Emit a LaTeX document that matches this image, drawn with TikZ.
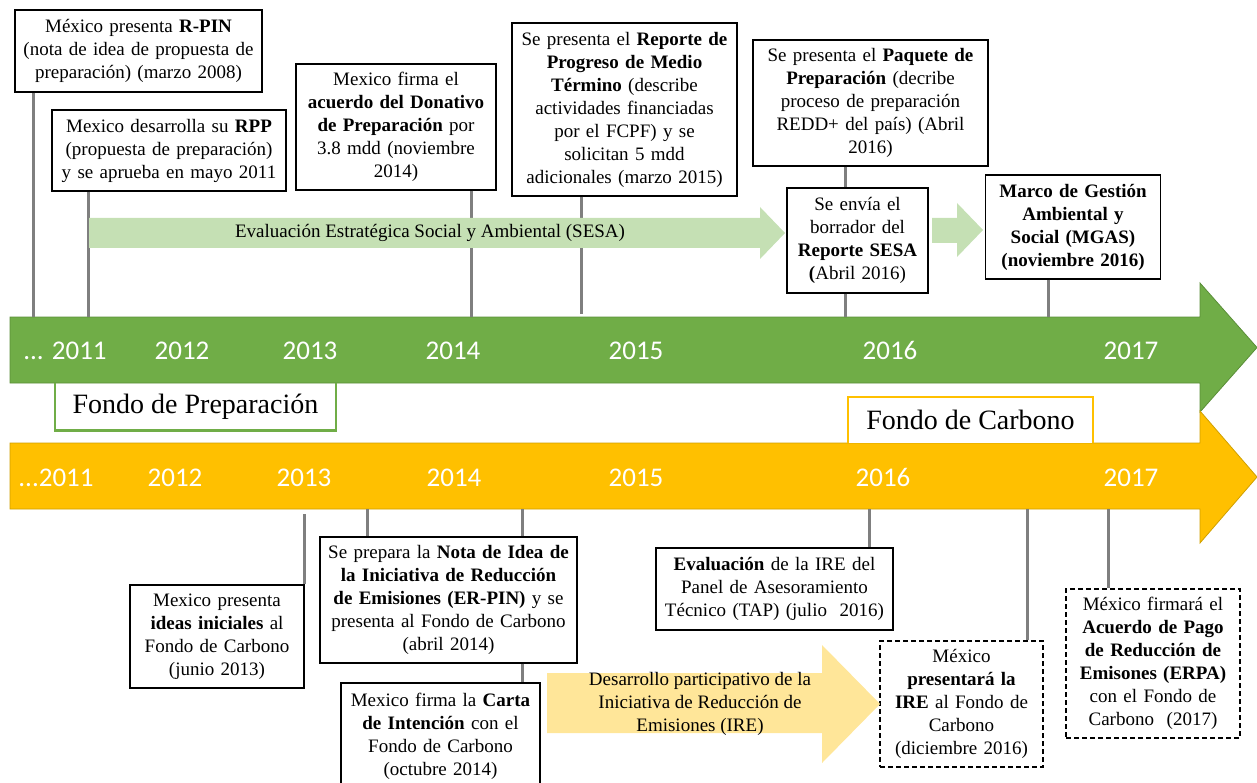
\documentclass[tikz,border=0pt]{standalone}
\usepackage{fontspec}
\setmainfont{Liberation Serif}
\newfontfamily\yearfont{Carlito}
\usetikzlibrary{positioning}
\definecolor{verde}{HTML}{70AD47}
\definecolor{verdeosc}{HTML}{5A8E38}
\definecolor{amarillo}{HTML}{FFC000}
\definecolor{amarilloosc}{HTML}{D0A000}
\definecolor{verdeclaro}{HTML}{C5E0B4}
\definecolor{amarilloclaro}{HTML}{FFE699}
\definecolor{gris}{HTML}{7F7F7F}
\tikzset{
  evento/.style={draw, line width=1.4pt, fill=white, align=center, inner sep=0pt,
    font=\fontsize{19}{23}\selectfont},
  futuro/.style={evento, dash pattern=on 5pt off 3pt},
  tick/.style={gris, line width=3pt},
  anio/.style={white, anchor=base, inner sep=0pt, font=\yearfont\fontsize{27}{30}\selectfont},
  fondo/.style={font=\fontsize{28}{32}\selectfont, inner sep=0pt},
  flecha/.style={font=\fontsize{19}{23}\selectfont, align=center, inner sep=0pt}
}

\begin{document}
\begin{tikzpicture}[x=1pt,y=-1pt]
  \useasboundingbox (0,0) rectangle (1257,783);

  \draw[verdeosc,fill=verde,line width=0.8pt] (10,317) -- (1200,317) -- (1200,283) -- (1257,347.5)
    -- (1200,412) -- (1200,383) -- (10,383) -- cycle;
  \draw[amarilloosc,fill=amarillo,line width=0.8pt] (10,443) -- (1200,443) -- (1200,411) -- (1257,477)
    -- (1200,543) -- (1200,509) -- (10,509) -- cycle;

  \node[anio] (g11) at (65,359) {... 2011};
  \node[anio] (g12) at (182,359) {2012};
  \node[anio] (g13) at (310,359) {2013};
  \node[anio] (g14) at (453,359) {2014};
  \node[anio] (g15) at (636,359) {2015};
  \node[anio] (g16) at (890,359) {2016};
  \node[anio] (g17) at (1131,359) {2017};
  \node[anio] (a11) at (56,486) {...2011};
  \node[anio] (a12) at (175,486) {2012};
  \node[anio] (a13) at (304,486) {2013};
  \node[anio] (a14) at (454,486) {2014};
  \node[anio] (a15) at (636,486) {2015};
  \node[anio] (a16) at (883,486) {2016};
  \node[anio] (a17) at (1131,486) {2017};

  \node[fondo,fill=white,minimum width=281pt,minimum height=47pt] (fprep) at (195.5,407) {Fondo de Preparación};
  \draw[verde,line width=2.5pt] (fprep.north west) |- (fprep.south east) -- (fprep.north east);
  \node[fondo,fill=white,minimum width=245pt,minimum height=46pt] (fcarb) at (970.5,420) {Fondo de Carbono};
  \draw[amarillo,line width=2.5pt] (fcarb.south west) |- (fcarb.north east) -- (fcarb.south east);

  \node[evento,text width=237pt,minimum width=247pt,minimum height=82pt] (rpin) at (138.5,51)
    {México presenta \textbf{R-PIN}\\(nota de idea de propuesta de\\preparación) (marzo 2008)};
  \node[evento,text width=226pt,minimum width=234pt,minimum height=81pt] (rpp) at (169,150.5)
    {Mexico desarrolla su \textbf{RPP}\\(propuesta de preparación)\\y se aprueba en mayo 2011};
  \node[evento,text width=194pt,minimum width=200pt,minimum height=126pt] (donat) at (396,127)
    {Mexico firma el\\\textbf{acuerdo del Donativo}\\\textbf{de Preparación} por\\3.8 mdd (noviembre\\2014)};
  \node[evento,text width=219pt,minimum width=225pt,minimum height=173pt] (prog) at (624.5,109.5)
    {Se presenta el \textbf{Reporte de}\\\textbf{Progreso de Medio}\\\textbf{Término} (describe\\actividades financiadas\\por el FCPF) y se\\solicitan 5 mdd\\adicionales (marzo 2015)};
  \node[evento,text width=229pt,minimum width=235pt,minimum height=126pt] (paq) at (870.5,103)
    {Se presenta el \textbf{Paquete de}\\\textbf{Preparación} (decribe\\proceso de preparación\\REDD+ del país) (Abril\\2016)};
  \node[evento,text width=137pt,minimum width=141pt,minimum height=105pt] (sesa) at (857.5,240.5)
    {Se envía el\\borrador del\\\textbf{Reporte SESA}\\\textbf{(}Abril 2016)};
  \node[evento,text width=171pt,minimum width=175pt,minimum height=104pt] (mgas) at (1073,227)
    {\textbf{Marco de Gestión}\\\textbf{Ambiental y}\\\textbf{Social (MGAS)}\\\textbf{(noviembre 2016)}};

  \node[evento,text width=170pt,minimum width=174pt,minimum height=103pt] (ideas) at (217,636.5)
    {Mexico presenta\\\textbf{ideas iniciales} al\\Fondo de Carbono\\(junio 2013)};
  \node[evento,text width=253pt,minimum width=257pt,minimum height=126pt] (erpin) at (448.5,600)
    {Se prepara la \textbf{Nota de Idea de}\\\textbf{la Iniciativa de Reducción}\\\textbf{de Emisiones (ER-PIN)} y se\\presenta al Fondo de Carbono\\(abril 2014)};
  \node[evento,text width=195pt,minimum width=199pt,minimum height=107pt] (carta) at (440.5,736.5)
    {Mexico firma la \textbf{Carta}\\\textbf{de Intención} con el\\Fondo de Carbono\\(octubre 2014)};
  \node[evento,text width=233pt,minimum width=237pt,minimum height=82pt] (evalu) at (774.5,589)
    {\textbf{Evaluación} de la IRE del\\Panel de Asesoramiento\\Técnico (TAP) (julio~~2016)};
  \node[futuro,text width=161pt,minimum width=163pt,minimum height=126pt] (irepres) at (961.5,704)
    {México\\\textbf{presentará la}\\\textbf{IRE} al Fondo de\\Carbono\\(diciembre 2016)};
  \node[futuro,text width=172pt,minimum width=174pt,minimum height=149pt] (erpa) at (1153,663.5)
    {México firmará el\\\textbf{Acuerdo de Pago}\\\textbf{de Reducción de}\\\textbf{Emisones (ERPA)}\\con el Fondo de\\Carbono~~(2017)};

  \coordinate (t1) at (33,317);
  \coordinate (t2) at (88,317);
  \coordinate (t3) at (471,317);
  \coordinate (t4) at (581,314);
  \coordinate (t5) at (845,317);
  \coordinate (t6) at (1048,317);
  \coordinate (b1) at (304,514);
  \coordinate (b2) at (367,509);
  \coordinate (b3) at (522,509);
  \coordinate (b4) at (869,509);
  \coordinate (b5) at (1027,509);
  \coordinate (b6) at (1108,509);

  \draw[tick] (rpin.south -| t1) -- (t1);
  \draw[tick] (rpp.south -| t2) -- (t2);
  \draw[tick] (donat.south -| t3) -- (t3);
  \draw[tick] (prog.south -| t4) -- (t4);
  \draw[tick] (paq.south -| t5) -- (sesa.north -| t5);
  \draw[tick] (sesa.south -| t5) -- (t5);
  \draw[tick] (mgas.south -| t6) -- (t6);
  \draw[tick] (b1) -- (ideas.north -| b1);
  \draw[tick] (b2) -- (erpin.north -| b2);
  \draw[tick] (b3) -- (erpin.north -| b3);
  \draw[tick] (erpin.south -| b3) -- (carta.north -| b3);
  \draw[tick] (b4) -- (evalu.north -| b4);
  \draw[tick] (b5) -- (irepres.north -| b5);
  \draw[tick] (b6) -- (erpa.north -| b6);

  \fill[verdeclaro] (89,218) -- (760,218) -- (760,207) -- (785,233) -- (760,259) -- (760,248)
    -- (89,248) -- cycle;
  \node[flecha] (sesatxt) at (430,233) {Evaluación Estratégica Social y Ambiental (SESA)};
  \fill[verdeclaro] (932,218) -- (957,218) -- (957,203) -- (983,230) -- (957,257) -- (957,243)
    -- (932,243) -- cycle;
  \fill[amarilloclaro] (547,673) -- (822,673) -- (822,645) -- (880,704) -- (822,763) -- (822,733)
    -- (547,733) -- cycle;
  \node[flecha] (iretxt) at (700,704) {Desarrollo participativo de la\\Iniciativa de Reducción de\\Emisiones (IRE)};
\end{tikzpicture}
\end{document}
